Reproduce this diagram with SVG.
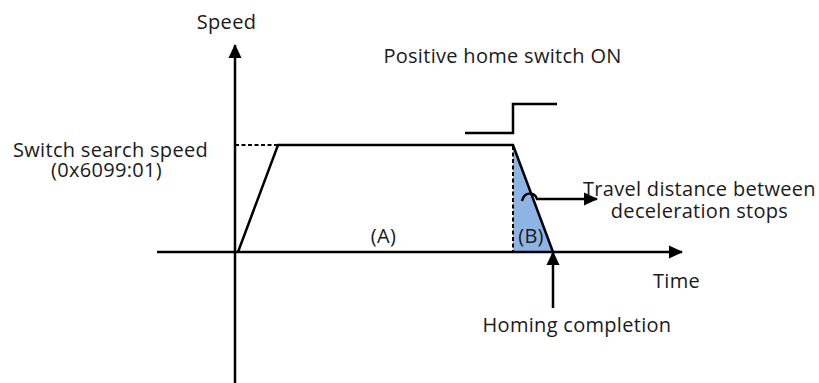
<svg xmlns="http://www.w3.org/2000/svg" width="819" height="383" viewBox="0 0 819 383">
<style>
text{font-family:"Open Sans","Noto Sans","Liberation Sans",sans-serif;font-size:20px;letter-spacing:0.3px;fill:#1a1a1a}
.ln{fill:none;stroke:#000;stroke-width:2.5}
.dash{fill:none;stroke:#000;stroke-width:2;stroke-dasharray:4 2.5}
</style>
<defs>
<marker id="ah" markerUnits="userSpaceOnUse" markerWidth="14" markerHeight="14" viewBox="0 0 14 14" refX="13" refY="7" orient="auto">
<path d="M0,0.5 L14,7 L0,13.5 Z" fill="#000"/>
</marker>
</defs>
<rect width="819" height="383" fill="#fff"/>
<g id="fill-B">
<polygon points="513,145 513,252 553,252" fill="#8EB4E3"/>
</g>
<g id="connectors">
<line class="ln" x1="235" y1="383" x2="235" y2="45" marker-end="url(#ah)"/>
<line class="ln" x1="157" y1="252" x2="682" y2="252" marker-end="url(#ah)"/>
<line class="dash" x1="235" y1="145" x2="278" y2="145"/>
<polyline class="ln" points="238,252 278,145 513,145 553,252"/>
<line class="dash" x1="513" y1="146" x2="513" y2="252"/>
<polyline class="ln" points="465,133 513,133 513,104 557,104"/>
<path class="ln" d="M522,201 C524,192 534,191 537,199 L597,199" marker-end="url(#ah)"/>
<line class="ln" x1="553" y1="308" x2="553" y2="252" marker-end="url(#ah)"/>
</g>
<g id="labels">
<text x="226.5" y="29" text-anchor="middle">Speed</text>
<text x="208" y="157" text-anchor="end">Switch search speed</text>
<text x="106.5" y="177" text-anchor="middle">(0x6099:01)</text>
<text x="502.5" y="63" text-anchor="middle">Positive home switch ON</text>
<text x="383.5" y="243" text-anchor="middle">(A)</text>
<text x="531" y="243" text-anchor="middle">(B)</text>
<text x="583" y="196">Travel distance between</text>
<text x="699.5" y="218" text-anchor="middle">deceleration stops</text>
<text x="653" y="288">Time</text>
<text x="577" y="332" text-anchor="middle">Homing completion</text>
</g>
</svg>
